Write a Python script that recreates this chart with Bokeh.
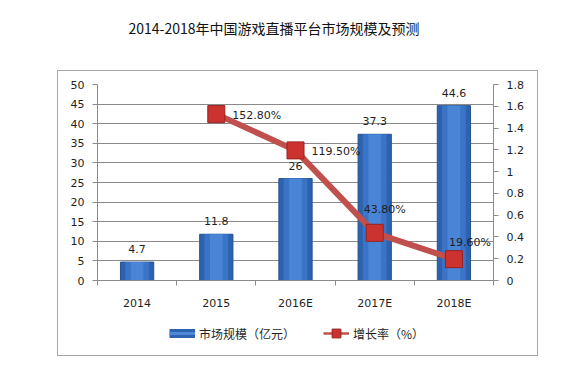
from bokeh.plotting import figure
from bokeh.layouts import column
from bokeh.models import (Range1d, LinearAxis, FixedTicker, ColumnDataSource,
                          Legend, LegendItem, Title)
from bokeh.core.properties import value
from bokeh.embed import file_html
from bokeh.resources import INLINE

# ---- data ----
categories = ["2014", "2015", "2016E", "2017E", "2018E"]
market_size = [4.7, 11.8, 26, 37.3, 44.6]
market_labels = ["4.7", "11.8", "26", "37.3", "44.6"]
growth_years = ["2015", "2016E", "2017E", "2018E"]
growth_rate = [1.528, 1.195, 0.438, 0.196]
growth_labels = ["152.80%", "119.50%", "43.80%", "19.60%"]
left_ticks = [0, 5, 10, 15, 20, 25, 30, 35, 40, 45, 50]
right_ticks = [0, 0.2, 0.4, 0.6, 0.8, 1.0, 1.2, 1.4, 1.6, 1.8]
right_tick_labels = ["0", "0.2", "0.4", "0.6", "0.8", "1", "1.2", "1.4", "1.6", "1.8"]
title_text = "2014-2018年中国游戏直播平台市场规模及预测"
legend_bar = "市场规模（亿元）"
legend_line = "增长率（%）"

# label offsets (style)
growth_dx = [16, 16, -11, -5]
growth_dy = [1, 1, -23, -17]

NUM_FONT = "DejaVu Sans"
CJK_FONT = "Noto Sans CJK SC"
TXT = "#1f1f1f"
GRID = "#8a8a8a"
BOX = "#a6a6a6"

bar_x = [i + 0.5 for i in range(len(categories))]
growth_x = [categories.index(c) + 0.5 for c in growth_years]

bars = ColumnDataSource(dict(x=bar_x, top=market_size, label=market_labels))
growth = ColumnDataSource(dict(x=growth_x, y=growth_rate, label=growth_labels,
                               dx=growth_dx, dy=growth_dy))

line_img = f"linear-gradient({BOX}, {BOX})"
# outer chart box: upper part (behind the chart figure)
box_css_top = {
    "background-color": "white",
    "background-image": ", ".join([line_img] * 3),
    "background-size": "481px 1px, 1px 250px, 1px 250px",
    "background-position": "57px 70px, 57px 70px, 537px 70px",
    "background-repeat": "no-repeat",
}
# outer chart box: lower part (behind the legend strip)
box_css_bottom = {
    "background-color": "white",
    "background-image": ", ".join([line_img] * 3),
    "background-size": "481px 1px, 1px 36px, 1px 36px",
    "background-position": "57px 35px, 57px 0px, 537px 0px",
    "background-repeat": "no-repeat",
}

p = figure(frame_width=396, frame_height=196, output_backend="svg", toolbar_location=None,
           title=None, x_range=Range1d(0, len(categories)), y_range=Range1d(0, 50),
           min_border_left=97, min_border_right=85, min_border_top=84, min_border_bottom=40,
           outline_line_color=None, background_fill_color="white",
           border_fill_alpha=0, styles=box_css_top)
p.extra_y_ranges = {"pct": Range1d(0, 1.8)}

# title (spacer added first sits next to the frame, title above it)
spacer = Title(text=" ", text_font=CJK_FONT, text_font_size="14px", standoff=25)
p.add_layout(spacer, "above")
main_title = Title(text=title_text, align="left", offset=31, standoff=0,
                   text_font=CJK_FONT, text_font_size="14px",
                   text_font_style="normal", text_color="#111111")
p.add_layout(main_title, "above")

# axes
xa = p.xaxis[0]
xa.ticker = FixedTicker(ticks=bar_x, minor_ticks=list(range(len(categories) + 1)))
xa.major_label_overrides = {x: c for x, c in zip(bar_x, categories)}
xa.major_tick_out = 0
xa.major_tick_in = 0
xa.minor_tick_out = 5
xa.minor_tick_in = 0
xa.minor_tick_line_color = GRID
xa.axis_line_color = GRID
xa.major_label_standoff = 11
xa.major_label_text_font = NUM_FONT
xa.major_label_text_font_size = "11px"
xa.major_label_text_color = TXT

ya = p.yaxis[0]
ya.ticker = FixedTicker(ticks=left_ticks)
ya.major_tick_out = 5
ya.major_tick_in = 0
ya.minor_tick_line_color = None
ya.major_tick_line_color = GRID
ya.axis_line_color = GRID
ya.major_label_standoff = 8
ya.major_label_text_font = NUM_FONT
ya.major_label_text_font_size = "11px"
ya.major_label_text_color = TXT

ra = LinearAxis(y_range_name="pct", ticker=FixedTicker(ticks=right_ticks))
ra.major_label_overrides = {t: s for t, s in zip(right_ticks, right_tick_labels)}
ra.major_tick_out = 5
ra.major_tick_in = 0
ra.minor_tick_line_color = None
ra.major_tick_line_color = GRID
ra.axis_line_color = GRID
ra.major_label_standoff = 8
ra.major_label_text_font = NUM_FONT
ra.major_label_text_font_size = "11px"
ra.major_label_text_color = TXT
p.add_layout(ra, "right")

p.xgrid.visible = False
p.ygrid.ticker = FixedTicker(ticks=left_ticks)
p.ygrid.grid_line_color = GRID
p.ygrid.grid_line_width = 1

# bars (layered for a shaded look)
p.vbar(x="x", top="top", width=0.42, bottom=0, source=bars,
       fill_color="#2d62b0", line_color="#24528f", line_width=1)
p.vbar(x="x", top="top", width=0.30, bottom=0, source=bars,
       fill_color="#3b74c6", line_color=None)
p.vbar(x="x", top="top", width=0.16, bottom=0, source=bars,
       fill_color="#4a84d6", line_color=None)
p.text(x="x", y="top", text="label", source=bars, text_align="center",
       text_baseline="middle", y_offset=-13, text_font=value(NUM_FONT),
       text_font_size="11px", text_color=TXT)

# growth line
p.line(x="x", y="y", source=growth, y_range_name="pct",
       line_color="#c0504d", line_width=6)
p.scatter(x="x", y="y", source=growth, y_range_name="pct", marker="square",
          size=17, fill_color="#cc3330", line_color="#9a2020", line_width=1)
p.text(x="x", y="y", text="label", source=growth, y_range_name="pct",
       x_offset="dx", y_offset="dy", text_align="left", text_baseline="middle",
       text_font=value(NUM_FONT), text_font_size="11px", text_color=TXT)

# ---- legend strip (separate canvas below the chart; its frame aligns with the chart's) ----
q = figure(width=578, height=53, output_backend="svg", toolbar_location=None,
           title=None, x_axis_type=None, y_axis_type=None,
           x_range=Range1d(0, 1), y_range=Range1d(0, 1),
           min_border_left=0, min_border_right=0, min_border_top=0, min_border_bottom=0,
           outline_line_color=None, background_fill_alpha=0, border_fill_alpha=0,
           styles=box_css_bottom)

# legend proxy renderers: same data, but lying outside this strip's ranges (not visible)
leg_src = ColumnDataSource(dict(x=bar_x, y=market_size))
leg_bar_dark = q.line(x="x", y="y", source=leg_src, line_color="#2d62b0", line_width=9)
leg_bar_light = q.line(x="x", y="y", source=leg_src, line_color="#4f88d6", line_width=3)
leg_line = q.line(x="x", y="y", source=leg_src, line_color="#c0504d", line_width=2.5)
leg_mark = q.scatter(x="x", y="y", source=leg_src, marker="square", fill_color="#cc3330",
                     line_color="#9a2020", line_width=1)

leg = Legend(items=[LegendItem(label=legend_bar, renderers=[leg_bar_dark, leg_bar_light]),
                    LegendItem(label=legend_line, renderers=[leg_line, leg_mark])],
             location=(72, 29), orientation="horizontal", padding=0, margin=0,
             spacing=28, glyph_width=26, glyph_height=22, label_height=14,
             label_standoff=4, label_text_font=CJK_FONT, label_text_font_size="12px",
             label_text_color=TXT, border_line_color=None, background_fill_alpha=0)
q.add_layout(leg)

layout = column(p, q, spacing=0)
open("out.html", "w").write(file_html(layout, INLINE))
